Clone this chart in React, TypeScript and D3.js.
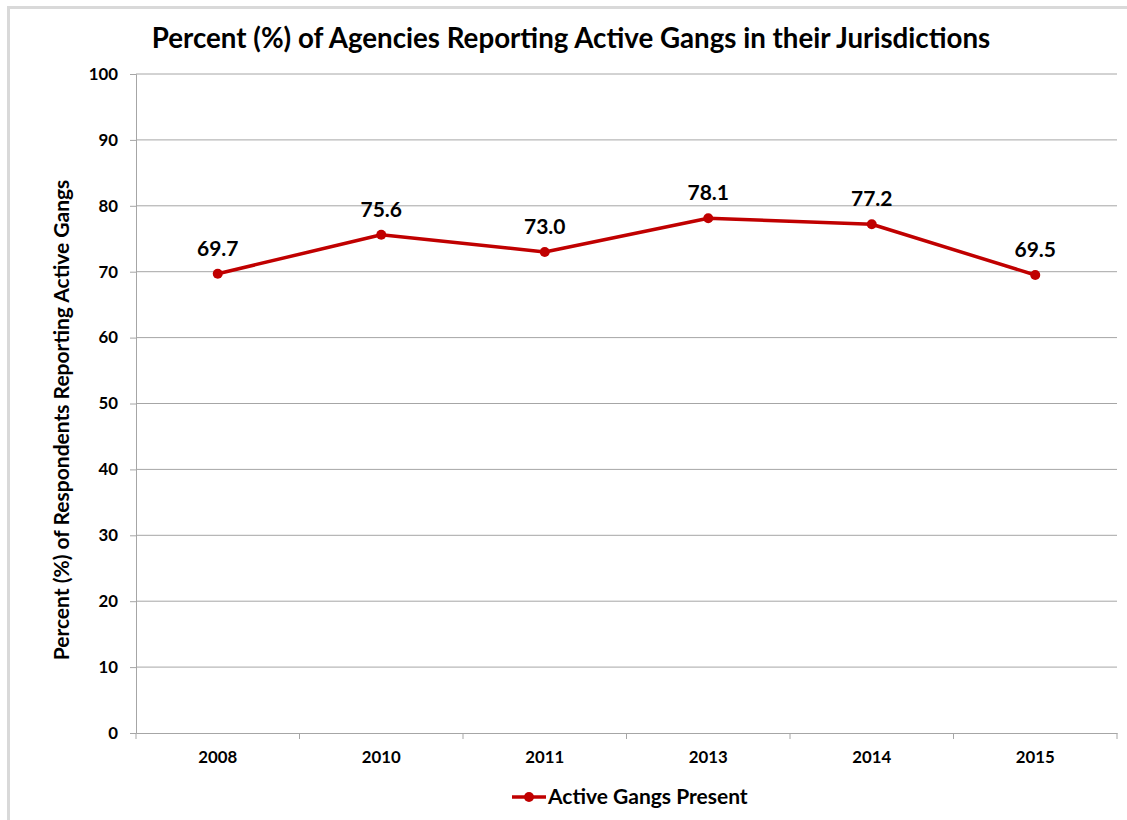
import * as d3 from "d3";
import { useEffect, useRef } from "react";

const years = ["2008", "2010", "2011", "2013", "2014", "2015"];
const activeGangs = [69.7, 75.6, 73.0, 78.1, 77.2, 69.5];
const yTicks = [0, 10, 20, 30, 40, 50, 60, 70, 80, 90, 100];

const FONT = "Lato, 'Open Sans', sans-serif";
const RED = "#c00000";

export default function App() {
  const ref = useRef<SVGSVGElement | null>(null);

  useEffect(() => {
    const svg = d3.select(ref.current);
    svg.selectAll("*").remove();

    const width = 1127;
    const height = 820;
    const left = 136;
    const right = 1117;
    const top = 74;
    const bottom = 733;

    // outer frame (cut off at top-left like the source)
    svg.append("rect").attr("width", width).attr("height", height).attr("fill", "#fff");
    svg
      .append("text")
      .attr("x", 20)
      .attr("y", -12)
      .attr("font-family", FONT)
      .attr("font-weight", 700)
      .attr("font-size", 30)
      .text("g");
    svg
      .append("path")
      .attr("d", `M8.5,${height} V7.5 H${width}`)
      .attr("fill", "none")
      .attr("stroke", "#d9d9d9")
      .attr("stroke-width", 3);

    const x = d3.scaleBand<string>().domain(years).range([left, right]);
    const y = d3.scaleLinear().domain([0, 100]).range([bottom, top]);

    // gridlines
    svg
      .append("g")
      .selectAll("line")
      .data(yTicks.filter((t) => t > 0))
      .enter()
      .append("line")
      .attr("x1", left)
      .attr("x2", right)
      .attr("y1", (d) => y(d))
      .attr("y2", (d) => y(d))
      .attr("stroke", "#a6a6a6")
      .attr("stroke-width", 1);

    // y axis
    const yAxis = svg
      .append("g")
      .attr("transform", `translate(${left},0)`)
      .call(d3.axisLeft(y).tickValues(yTicks).tickSize(6).tickPadding(12));
    yAxis.select(".domain").attr("stroke", "#a6a6a6");
    yAxis.selectAll(".tick line").attr("stroke", "#a6a6a6");
    yAxis
      .selectAll("text")
      .attr("font-family", FONT)
      .attr("font-weight", 700)
      .attr("font-size", 16.8)
      .attr("fill", "#000");

    // x axis
    const xAxis = svg
      .append("g")
      .attr("transform", `translate(0,${bottom})`)
      .call(d3.axisBottom(x).tickSize(0).tickPadding(18));
    xAxis.select(".domain").attr("stroke", "#a6a6a6");
    xAxis
      .selectAll("text")
      .attr("font-family", FONT)
      .attr("font-weight", 700)
      .attr("font-size", 16.8)
      .attr("fill", "#000");
    svg
      .append("g")
      .selectAll("line")
      .data(d3.range(years.length + 1))
      .enter()
      .append("line")
      .attr("x1", (i) => left + i * x.step())
      .attr("x2", (i) => left + i * x.step())
      .attr("y1", bottom)
      .attr("y2", bottom + 6)
      .attr("stroke", "#a6a6a6");

    // line
    const pts = years.map((yr, i) => ({ yr, v: activeGangs[i] }));
    const line = d3
      .line<{ yr: string; v: number }>()
      .x((d) => (x(d.yr) as number) + x.bandwidth() / 2)
      .y((d) => y(d.v));
    svg
      .append("path")
      .datum(pts)
      .attr("d", line)
      .attr("fill", "none")
      .attr("stroke", RED)
      .attr("stroke-width", 3.5)
      .attr("stroke-linejoin", "round");
    svg
      .append("g")
      .selectAll("circle")
      .data(pts)
      .enter()
      .append("circle")
      .attr("cx", (d) => (x(d.yr) as number) + x.bandwidth() / 2)
      .attr("cy", (d) => y(d.v))
      .attr("r", 5)
      .attr("fill", RED);
    svg
      .append("g")
      .selectAll("text")
      .data(pts)
      .enter()
      .append("text")
      .attr("x", (d) => (x(d.yr) as number) + x.bandwidth() / 2)
      .attr("y", (d) => y(d.v) - 18)
      .attr("text-anchor", "middle")
      .attr("font-family", FONT)
      .attr("font-weight", 700)
      .attr("font-size", 21)
      .text((d) => d.v.toFixed(1));

    // title
    svg
      .append("text")
      .attr("x", 571)
      .attr("y", 48)
      .attr("text-anchor", "middle")
      .attr("font-family", FONT)
      .attr("font-weight", 700)
      .attr("font-size", 27.7)
      .text("Percent (%) of Agencies Reporting Active Gangs in their Jurisdictions");

    // y axis title
    svg
      .append("text")
      .attr("transform", `translate(69,420) rotate(-90)`)
      .attr("text-anchor", "middle")
      .attr("font-family", FONT)
      .attr("font-weight", 700)
      .attr("font-size", 21)
      .text("Percent (%) of Respondents Reporting Active Gangs");

    // legend
    const ly = 797;
    svg
      .append("line")
      .attr("x1", 512)
      .attr("x2", 546)
      .attr("y1", ly)
      .attr("y2", ly)
      .attr("stroke", RED)
      .attr("stroke-width", 3.5);
    svg.append("circle").attr("cx", 529).attr("cy", ly).attr("r", 5).attr("fill", RED);
    svg
      .append("text")
      .attr("x", 548)
      .attr("y", ly + 7)
      .attr("font-family", FONT)
      .attr("font-weight", 700)
      .attr("font-size", 21)
      .text("Active Gangs Present");
  }, []);

  return (
    <svg
      ref={ref}
      width={1127}
      height={820}
      style={{ position: "absolute", left: 0, top: 0, display: "block" }}
    />
  );
}
